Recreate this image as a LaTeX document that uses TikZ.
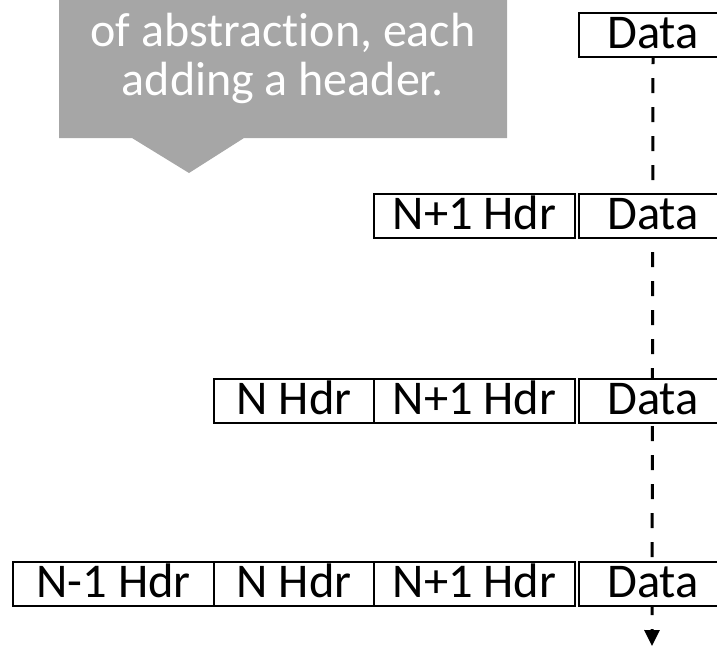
\documentclass[tikz,border=0pt]{standalone}
\usepackage{fontspec}
\setmainfont{Carlito}[Ligatures={NoCommon,NoRare}]
\usetikzlibrary{arrows.meta}
\definecolor{calloutgray}{HTML}{A6A6A6}
\tikzset{
  pkt/.style={draw=black, line width=2pt, fill=white, rectangle, inner sep=0pt,
    minimum height=44pt, anchor=north west, text height=29pt, text depth=2pt,
    font=\fontsize{48.5}{48.5}\selectfont},
  hdrN1/.style={pkt, minimum width=201pt},
  hdrN/.style={pkt, minimum width=160pt},
  hdrNp/.style={pkt, minimum width=201pt},
  datab/.style={pkt, minimum width=148pt},
  flow/.style={line width=3pt, dash pattern=on 15pt off 14pt, dash phase=9pt,
    -{Triangle[width=15pt,length=16pt]}},
  callouttext/.style={text=white, anchor=base, inner sep=0pt,
    font=\fontsize{48}{48}\selectfont}
}
\begin{document}
\begin{tikzpicture}[x=1pt,y=-1pt]
\useasboundingbox (0,0) rectangle (717,646);
\clip (0,0) rectangle (717,646);

% speech-bubble callout
\fill[calloutgray] (59,-5) -- (507,-5) -- (507,138) -- (244,138) -- (189,173)
  -- (132,138) -- (59,138) -- cycle;
\node[callouttext] (cl1) at (283,46) {of abstraction, each};
\node[callouttext] (cl2) at (283,95) {adding a header.};

% end point of the downward flow
\coordinate (flowend) at (652,646);

% layer 1: bare data
\node[datab] (d1) at (578,12) {Data};
% dashed flow line, running behind the lower packets
\draw[flow] (d1.south) -- (flowend);
\node[datab] (d1) at (578,12) {Data};

% layer 2
\node[hdrNp] (p2) at (373,193) {N+1 Hdr};
\node[datab] (d2) at (578,193) {Data};

% layer 3
\node[hdrN]  (n3) at (213,378) {N Hdr};
\node[hdrNp] (p3) at (373,378) {N+1 Hdr};
\node[datab] (d3) at (578,378) {Data};

% layer 4
\node[hdrN1] (m4) at (12,561) {N-1 Hdr};
\node[hdrN]  (n4) at (213,561) {N Hdr};
\node[hdrNp] (p4) at (373,561) {N+1 Hdr};
\node[datab] (d4) at (578,561) {Data};
\end{tikzpicture}
\end{document}
